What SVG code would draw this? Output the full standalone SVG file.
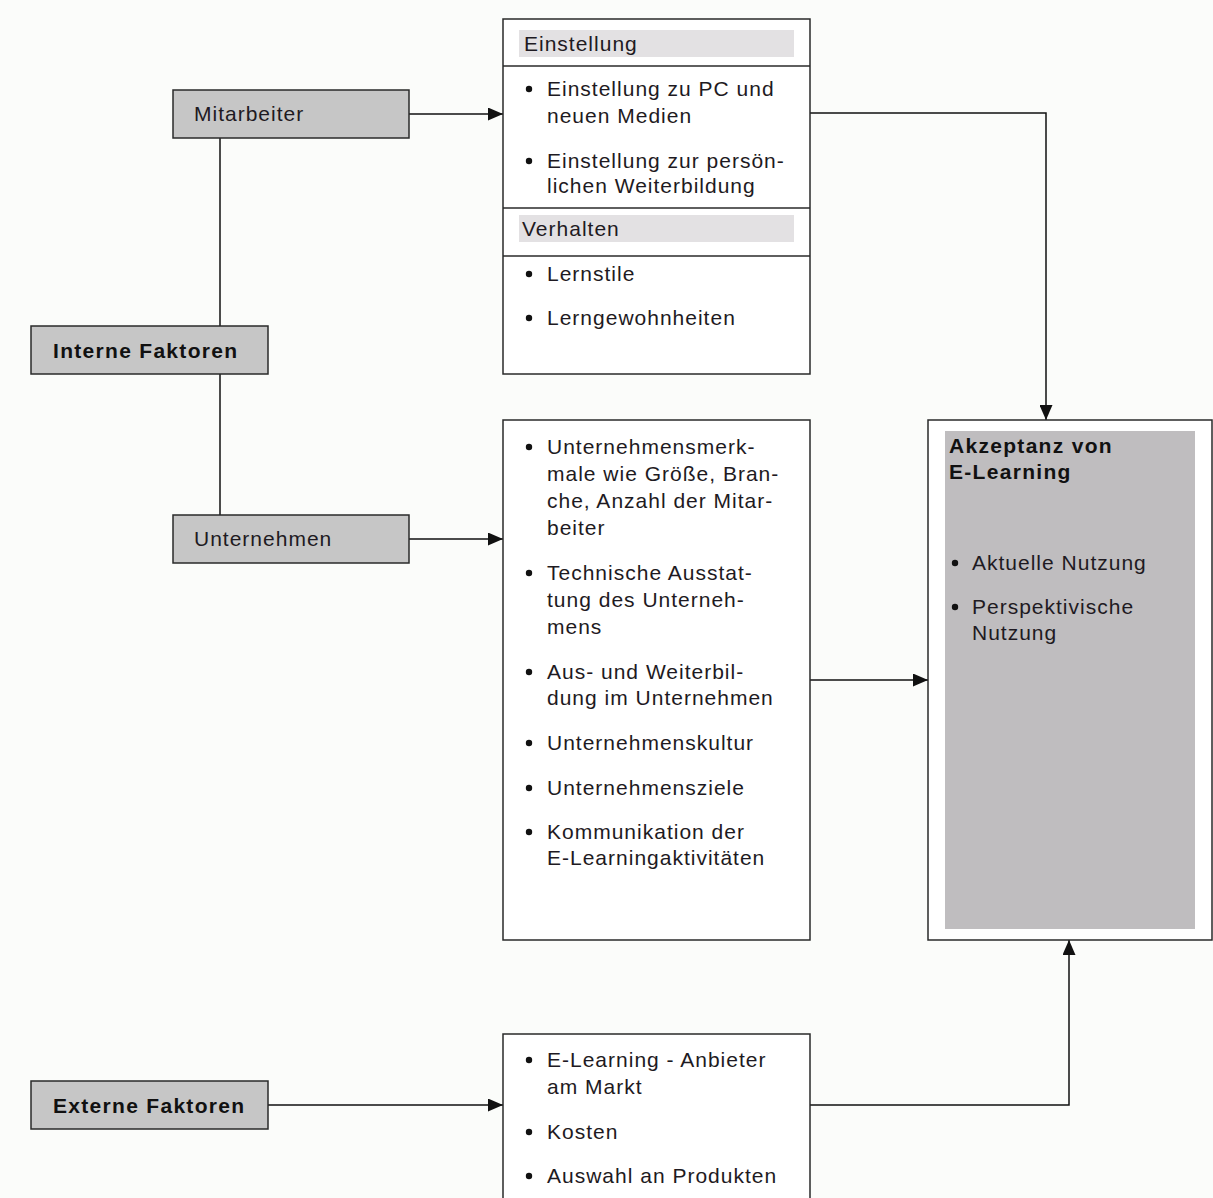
<svg xmlns="http://www.w3.org/2000/svg" width="1213" height="1198" viewBox="0 0 1213 1198">
<defs>
<marker id="ah" markerWidth="15" markerHeight="13" refX="15" refY="6.5" orient="auto" markerUnits="userSpaceOnUse">
<path d="M0,0 L15,6.5 L0,13 Z" fill="#111"/>
</marker>
</defs>
<style>
.bg{fill:#fbfcfa}
.gbox{fill:#c6c6c6;stroke:#2a2a2a;stroke-width:1.5}
.wbox{fill:#ffffff;stroke:#2a2a2a;stroke-width:1.5}
.hdr{fill:#e3e1e3}
.div{stroke:#2a2a2a;stroke-width:1.5}
.inner{fill:#bfbdbf}
.dot{fill:#111}
text{font-family:"Liberation Sans",Arial,sans-serif;font-size:21px;letter-spacing:1px;fill:#1e1a22}
.b{font-weight:bold;fill:#111;letter-spacing:1.3px}
.con{fill:none;stroke:#111;stroke-width:1.5}
</style>
<rect class="bg" x="0" y="0" width="1213" height="1198"/>
<g id="connectors">
<line class="con" x1="220" y1="138" x2="220" y2="326"/>
<line class="con" x1="220" y1="374" x2="220" y2="515"/>
<line class="con" x1="409" y1="114" x2="503" y2="114" marker-end="url(#ah)"/>
<line class="con" x1="409" y1="539" x2="503" y2="539" marker-end="url(#ah)"/>
<line class="con" x1="268" y1="1105" x2="503" y2="1105" marker-end="url(#ah)"/>
<polyline class="con" points="810,113 1046,113 1046,420" marker-end="url(#ah)"/>
<line class="con" x1="810" y1="680" x2="928" y2="680" marker-end="url(#ah)"/>
<polyline class="con" points="810,1105 1069,1105 1069,940" marker-end="url(#ah)"/>
</g>
<g id="mitarbeiter">
<rect class="gbox" x="173" y="90" width="236" height="48"/>
<text x="194" y="121">Mitarbeiter</text>
</g>
<g id="interne">
<rect class="gbox" x="31" y="326" width="237" height="48"/>
<text class="b" x="53" y="358">Interne Faktoren</text>
</g>
<g id="unternehmen">
<rect class="gbox" x="173" y="515" width="236" height="48"/>
<text x="194" y="546">Unternehmen</text>
</g>
<g id="externe">
<rect class="gbox" x="31" y="1081" width="237" height="48"/>
<text class="b" x="53" y="1113">Externe Faktoren</text>
</g>
<g id="mitarbeiter-details">
<rect class="wbox" x="503" y="19" width="307" height="355"/>
<rect class="hdr" x="519" y="30" width="275" height="27"/>
<line class="div" x1="503" y1="66" x2="810" y2="66"/>
<line class="div" x1="503" y1="208" x2="810" y2="208"/>
<rect class="hdr" x="519" y="215" width="275" height="27"/>
<line class="div" x1="503" y1="256" x2="810" y2="256"/>
<text x="524" y="51">Einstellung</text>
<circle class="dot" cx="529" cy="89" r="3.2"/><text x="547" y="96">Einstellung zu PC und</text>
<text x="547" y="123">neuen Medien</text>
<circle class="dot" cx="529" cy="161" r="3.2"/><text x="547" y="168">Einstellung zur persön-</text>
<text x="547" y="193">lichen Weiterbildung</text>
<text x="522" y="236">Verhalten</text>
<circle class="dot" cx="529" cy="274" r="3.2"/><text x="547" y="281">Lernstile</text>
<circle class="dot" cx="529" cy="318" r="3.2"/><text x="547" y="325">Lerngewohnheiten</text>
</g>
<g id="unternehmen-details">
<rect class="wbox" x="503" y="420" width="307" height="520"/>
<circle class="dot" cx="529" cy="447" r="3.2"/><text x="547" y="454">Unternehmensmerk-</text>
<text x="547" y="481">male wie Größe, Bran-</text>
<text x="547" y="508">che, Anzahl der Mitar-</text>
<text x="547" y="535">beiter</text>
<circle class="dot" cx="529" cy="573" r="3.2"/><text x="547" y="580">Technische Ausstat-</text>
<text x="547" y="607">tung des Unterneh-</text>
<text x="547" y="634">mens</text>
<circle class="dot" cx="529" cy="672" r="3.2"/><text x="547" y="679">Aus- und Weiterbil-</text>
<text x="547" y="705">dung im Unternehmen</text>
<circle class="dot" cx="529" cy="743" r="3.2"/><text x="547" y="750">Unternehmenskultur</text>
<circle class="dot" cx="529" cy="788" r="3.2"/><text x="547" y="795">Unternehmensziele</text>
<circle class="dot" cx="529" cy="832" r="3.2"/><text x="547" y="839">Kommunikation der</text>
<text x="547" y="865">E-Learningaktivitäten</text>
</g>
<g id="externe-details">
<rect class="wbox" x="503" y="1034" width="307" height="180"/>
<circle class="dot" cx="529" cy="1060" r="3.2"/><text x="547" y="1067">E-Learning - Anbieter</text>
<text x="547" y="1094">am Markt</text>
<circle class="dot" cx="529" cy="1132" r="3.2"/><text x="547" y="1139">Kosten</text>
<circle class="dot" cx="529" cy="1176" r="3.2"/><text x="547" y="1183">Auswahl an Produkten</text>
</g>
<g id="akzeptanz">
<rect class="wbox" x="928" y="420" width="284" height="520"/>
<rect class="inner" x="945" y="431" width="250" height="498"/>
<text class="b" x="949" y="453">Akzeptanz von</text>
<text class="b" x="949" y="479">E-Learning</text>
<circle class="dot" cx="955" cy="563" r="3.2"/><text x="972" y="570">Aktuelle Nutzung</text>
<circle class="dot" cx="955" cy="607" r="3.2"/><text x="972" y="614">Perspektivische</text>
<text x="972" y="640">Nutzung</text>
</g>
</svg>
